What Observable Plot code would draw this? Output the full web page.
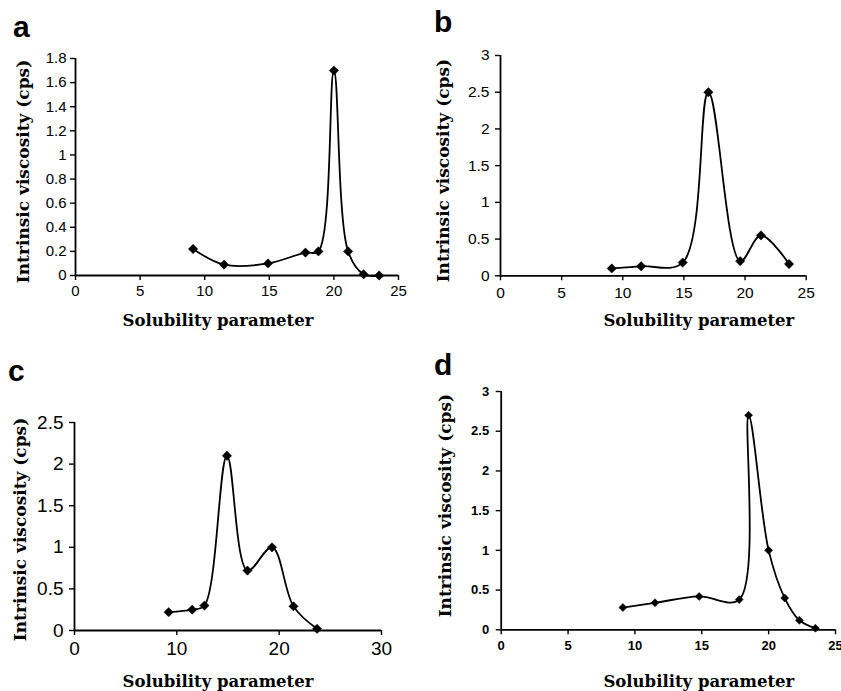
<!DOCTYPE html>
<html>
<head>
<meta charset="utf-8">
<script src="https://cdn.jsdelivr.net/npm/d3@7"></script>
<script src="https://cdn.jsdelivr.net/npm/@observablehq/plot@0.6"></script>
<style>
  html, body { margin: 0; padding: 0; background: #fff; }
  #root { position: relative; width: 841px; height: 691px; overflow: hidden; background: #fff; }
  .panel { position: absolute; }
  .letter { position: absolute; font-family: "Liberation Sans", Arial, sans-serif; font-weight: bold; font-size: 30px; line-height: 1; color: #000; }
</style>
</head>
<body>
<div id="root"></div>
<script>
// ---- data ----
const panelLetters = ["a", "b", "c", "d"];
const xTitle = "Solubility parameter";
const yTitle = "Intrinsic viscosity (cps)";

const xA = [9.1, 11.5, 14.9, 17.8, 18.8, 20.0, 21.1, 22.3, 23.5];
const yA = [0.22, 0.09, 0.10, 0.19, 0.20, 1.70, 0.20, 0.01, 0.00];
const xTicksA = [0, 5, 10, 15, 20, 25];
const yTicksA = [0, 0.2, 0.4, 0.6, 0.8, 1, 1.2, 1.4, 1.6, 1.8];

const xB = [9.1, 11.5, 14.9, 17.0, 19.6, 21.3, 23.6];
const yB = [0.10, 0.13, 0.18, 2.50, 0.20, 0.55, 0.16];
const xTicksB = [0, 5, 10, 15, 20, 25];
const yTicksB = [0, 0.5, 1, 1.5, 2, 2.5, 3];

const xC = [9.2, 11.5, 12.7, 14.9, 16.9, 19.3, 21.4, 23.7];
const yC = [0.22, 0.25, 0.30, 2.10, 0.72, 1.00, 0.29, 0.02];
const xTicksC = [0, 10, 20, 30];
const yTicksC = [0, 0.5, 1, 1.5, 2, 2.5];

const xD = [9.1, 11.5, 14.8, 17.8, 18.5, 20.0, 21.2, 22.3, 23.5];
const yD = [0.28, 0.34, 0.42, 0.38, 2.70, 1.00, 0.40, 0.12, 0.02];
const xTicksD = [0, 5, 10, 15, 20, 25];
const yTicksD = [0, 0.5, 1, 1.5, 2, 2.5, 3];

// ---- layout (positions & styles) ----
const panels = [
  {xs: xA, ys: yA, xt: xTicksA, yt: yTicksA, left: 0, top: 0, width: 420, height: 340,
   m: {l: 75, r: 22, t: 58, b: 65}, tickFont: {size: 15, weight: "normal"}, r: 4.2,
   yT: {dx: -213.5, dy: 4.5}, xT: {dx: -19, dy: 154}, xPad: 5, yPad: 4,
   letter: {x: 13, y: 12}},
  {xs: xB, ys: yB, xt: xTicksB, yt: yTicksB, left: 420, top: 0, width: 421, height: 340,
   m: {l: 80, r: 35.3, t: 55, b: 64.7}, tickFont: {size: 15.5, weight: "normal"}, r: 4.2,
   yT: {dx: -210, dy: 5}, xT: {dx: 45.5, dy: 155.5}, xPad: 6, yPad: 6,
   letter: {x: 434, y: 7}},
  {xs: xC, ys: yC, xt: xTicksC, yt: yTicksC, left: 0, top: 340, width: 420, height: 351,
   m: {l: 74, r: 39, t: 82, b: 61}, tickFont: {size: 19, weight: "normal"}, r: 4.2,
   yT: {dx: -207.5, dy: 3}, xT: {dx: -10, dy: 155.7}, xPad: 6, yPad: 6,
   letter: {x: 8, y: 356}},
  {xs: xD, ys: yD, xt: xTicksD, yt: yTicksD, left: 420, top: 340, width: 421, height: 351,
   m: {l: 80.7, r: 6, t: 51, b: 61.7}, tickFont: {size: 13, weight: "bold"}, r: 3.6,
   yT: {dx: -222.8, dy: -5}, xT: {dx: 30.5, dy: 171.5}, xPad: 6, yPad: 7,
   letter: {x: 434, y: 350}}
];

const root = document.getElementById("root");
const titleFont = "'DejaVu Serif', serif";

panels.forEach((p, i) => {
  const data = p.xs.map((x, j) => ({x, y: p.ys[j]}));
  const yMax = p.yt[p.yt.length - 1];
  const xMax = p.xt[p.xt.length - 1];
  const chart = Plot.plot({
    width: p.width,
    height: p.height,
    marginLeft: p.m.l, marginRight: p.m.r, marginTop: p.m.t, marginBottom: p.m.b,
    style: {fontFamily: "'Liberation Sans', Arial, sans-serif", fontSize: p.tickFont.size + "px", color: "#000", background: "#fff", overflow: "hidden"},
    x: {domain: [0, xMax]},
    y: {domain: [0, yMax]},
    marks: [
      Plot.axisX({ticks: p.xt, tickSize: 5, tickPadding: p.xPad, tickFormat: d => String(d), label: null,
                  fontSize: p.tickFont.size, fontWeight: p.tickFont.weight, strokeWidth: 1.4}),
      Plot.axisY({ticks: p.yt, tickSize: 5, tickPadding: p.yPad, tickFormat: d => String(d), label: null,
                  fontSize: p.tickFont.size, fontWeight: p.tickFont.weight, strokeWidth: 1.4}),
      Plot.ruleY([0], {stroke: "#000", strokeWidth: 1.8}),
      Plot.ruleX([0], {stroke: "#000", strokeWidth: 1.8}),
      Plot.line(data, {x: "x", y: "y", curve: "catmull-rom", stroke: "#000", strokeWidth: 1.8}),
      Plot.dot(data, {x: "x", y: "y", symbol: "diamond2", r: p.r, fill: "#000", stroke: "#000", strokeWidth: 0.5}),
      Plot.text([yTitle], {frameAnchor: "middle", rotate: -90, dx: p.yT.dx, dy: p.yT.dy,
                 fontFamily: titleFont, fontWeight: "bold", fontSize: 17, fill: "#000", textAnchor: "middle", lineAnchor: "middle"}),
      Plot.text([xTitle], {frameAnchor: "middle", dx: p.xT.dx, dy: p.xT.dy,
                 fontFamily: titleFont, fontWeight: "bold", fontSize: 16.5, fill: "#000", textAnchor: "middle", lineAnchor: "middle"})
    ]
  });
  const div = document.createElement("div");
  div.className = "panel";
  div.style.left = p.left + "px";
  div.style.top = p.top + "px";
  div.style.width = p.width + "px";
  div.style.height = p.height + "px";
  div.style.overflow = "hidden";
  div.appendChild(chart);
  root.appendChild(div);

  const lt = document.createElement("div");
  lt.className = "letter";
  lt.textContent = panelLetters[i];
  lt.style.left = p.letter.x + "px";
  lt.style.top = p.letter.y + "px";
  root.appendChild(lt);
});
</script>
</body>
</html>
